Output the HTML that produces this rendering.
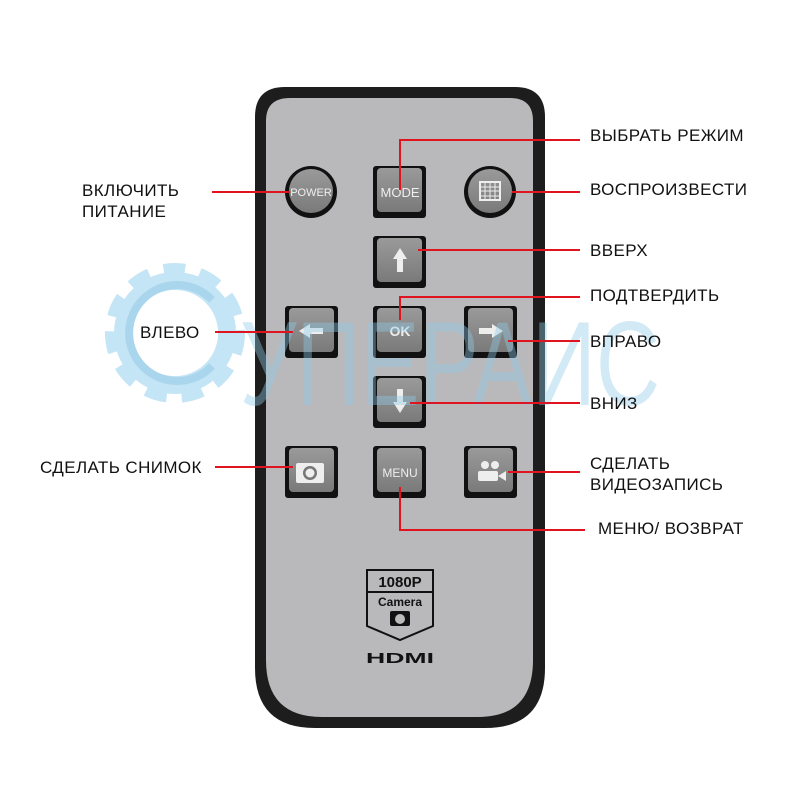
<!DOCTYPE html>
<html><head><meta charset="utf-8"><style>
html,body{margin:0;padding:0;background:#fff;width:800px;height:800px;overflow:hidden}
svg text{font-family:"Liberation Sans",sans-serif}
</style></head><body>
<svg width="800" height="800" viewBox="0 0 800 800" xmlns="http://www.w3.org/2000/svg">
<defs>
<linearGradient id="btn" x1="0" y1="0" x2="0" y2="1"><stop offset="0" stop-color="#9a9a9a"/><stop offset="1" stop-color="#7a7a7a"/></linearGradient>
</defs>
<!-- gear watermark -->
<g fill="none" stroke="#c4e5f5">
<circle cx="175" cy="333" r="60" stroke-width="20" stroke-dasharray="20 14"/>
<circle cx="175" cy="333" r="52" stroke-width="18"/>
</g>
<circle cx="175" cy="333" r="43" fill="#fff"/>
<path d="M212,300 A48,48 0 1 0 212,366" fill="none" stroke="#a9d6ec" stroke-width="8"/>
<!-- remote body -->
<path d="M285,87 H515 Q545,87 545,117 V668 Q545,728 485,728 H315 Q255,728 255,668 V117 Q255,87 285,87 Z" fill="#1d1d1d"/>
<path d="M290,98 H510 Q533,98 533,121 V660 Q533,717 478,717 H322 Q266,717 266,660 V121 Q266,98 290,98 Z" fill="#b9b9bb"/>
<!-- buttons -->
<g>
<circle cx="311" cy="192" r="26" fill="#111"/><circle cx="311" cy="191" r="22" fill="url(#btn)"/>
<text x="311" y="196" font-size="11" fill="#eee" text-anchor="middle">POWER</text>
<circle cx="490" cy="192" r="26" fill="#111"/><circle cx="490" cy="191" r="22" fill="url(#btn)"/>
<rect x="480" y="182" width="20" height="18" fill="none" stroke="#eee" stroke-width="2"/>
<path d="M485,182V200M490,182V200M495,182V200M480,187H500M480,191H500M480,196H500" stroke="#eee" stroke-width="1"/>
</g>
<g fill="#111">
<rect x="373" y="166" width="53" height="52" rx="3"/>
<rect x="373" y="236" width="53" height="52" rx="3"/>
<rect x="373" y="306" width="53" height="52" rx="3"/>
<rect x="373" y="376" width="53" height="52" rx="3"/>
<rect x="285" y="306" width="53" height="52" rx="3"/>
<rect x="464" y="306" width="53" height="52" rx="3"/>
<rect x="285" y="446" width="53" height="52" rx="3"/>
<rect x="373" y="446" width="53" height="52" rx="3"/>
<rect x="464" y="446" width="53" height="52" rx="3"/>
</g>
<g fill="url(#btn)">
<rect x="377" y="168" width="45" height="44" rx="4"/>
<rect x="377" y="238" width="45" height="44" rx="4"/>
<rect x="377" y="308" width="45" height="44" rx="4"/>
<rect x="377" y="378" width="45" height="44" rx="4"/>
<rect x="289" y="308" width="45" height="44" rx="4"/>
<rect x="468" y="308" width="45" height="44" rx="4"/>
<rect x="289" y="448" width="45" height="44" rx="4"/>
<rect x="377" y="448" width="45" height="44" rx="4"/>
<rect x="468" y="448" width="45" height="44" rx="4"/>
</g>
<g fill="#eee">
<text x="400" y="197" font-size="13" text-anchor="middle">MODE</text>
<text x="400" y="336" font-size="14" font-weight="bold" text-anchor="middle">OK</text>
<text x="400" y="477" font-size="12" text-anchor="middle">MENU</text>
<path d="M400,248 L407,259 H403 V272 H397 V259 H393 Z"/>
<path d="M400,413 L407,402 H403 V389 H397 V402 H393 Z"/>
<path d="M299,331 L310,324 V328 H323 V334 H310 V338 Z"/>
<path d="M503,331 L492,324 V328 H479 V334 H492 V338 Z"/>
<rect x="296" y="463" width="28" height="20" rx="2"/>
<circle cx="310" cy="473" r="7" fill="#777"/><circle cx="310" cy="473" r="4.5" fill="#eee"/>
<circle cx="485" cy="465" r="4"/><circle cx="495" cy="465" r="4"/>
<rect x="478" y="471" width="20" height="10" rx="2"/><path d="M498,476 L506,471 V481 Z"/>
</g>
<!-- watermark text -->
<text x="240" y="405" font-size="120" fill="#8fcce8" opacity="0.4" textLength="420" lengthAdjust="spacingAndGlyphs">УПЕРАИС</text>
<!-- logo -->
<path d="M367,570 H433 V626 L400,640 L367,626 Z" fill="none" stroke="#111" stroke-width="2"/>
<line x1="367" y1="592" x2="433" y2="592" stroke="#111" stroke-width="2"/>
<text x="400" y="587" font-size="15" font-weight="bold" text-anchor="middle" fill="#111">1080P</text>
<text x="400" y="606" font-size="12" font-weight="bold" text-anchor="middle" fill="#111">Camera</text>
<rect x="390" y="611" width="20" height="15" rx="2" fill="#111"/><circle cx="400" cy="619" r="5" fill="#bbb"/>
<text x="400" y="663" font-size="15" font-weight="900" text-anchor="middle" fill="#111" textLength="68" lengthAdjust="spacingAndGlyphs">HDMI</text>
<!-- lines -->
<g stroke="#e0141e" stroke-width="2" fill="none">
<path d="M400,190 V140 H580"/>
<path d="M212,192 H290"/>
<path d="M512,192 H580"/>
<path d="M418,250 H580"/>
<path d="M400,320 V297 H580"/>
<path d="M215,332 H293"/>
<path d="M508,341 H580"/>
<path d="M410,403 H580"/>
<path d="M215,467 H293"/>
<path d="M508,472 H580"/>
<path d="M400,487 V530 H585"/>
</g>
<g font-size="17" fill="#111" letter-spacing="0.4">
<text x="590" y="141">ВЫБРАТЬ РЕЖИМ</text>
<text x="82" y="196">ВКЛЮЧИТЬ</text>
<text x="82" y="217">ПИТАНИЕ</text>
<text x="590" y="195">ВОСПРОИЗВЕСТИ</text>
<text x="590" y="256">ВВЕРХ</text>
<text x="590" y="301">ПОДТВЕРДИТЬ</text>
<text x="140" y="338">ВЛЕВО</text>
<text x="590" y="347">ВПРАВО</text>
<text x="590" y="409">ВНИЗ</text>
<text x="40" y="473">СДЕЛАТЬ СНИМОК</text>
<text x="590" y="469">СДЕЛАТЬ</text>
<text x="590" y="490">ВИДЕОЗАПИСЬ</text>
<text x="598" y="534">МЕНЮ/ ВОЗВРАТ</text>
</g>
</svg>
</body></html>
